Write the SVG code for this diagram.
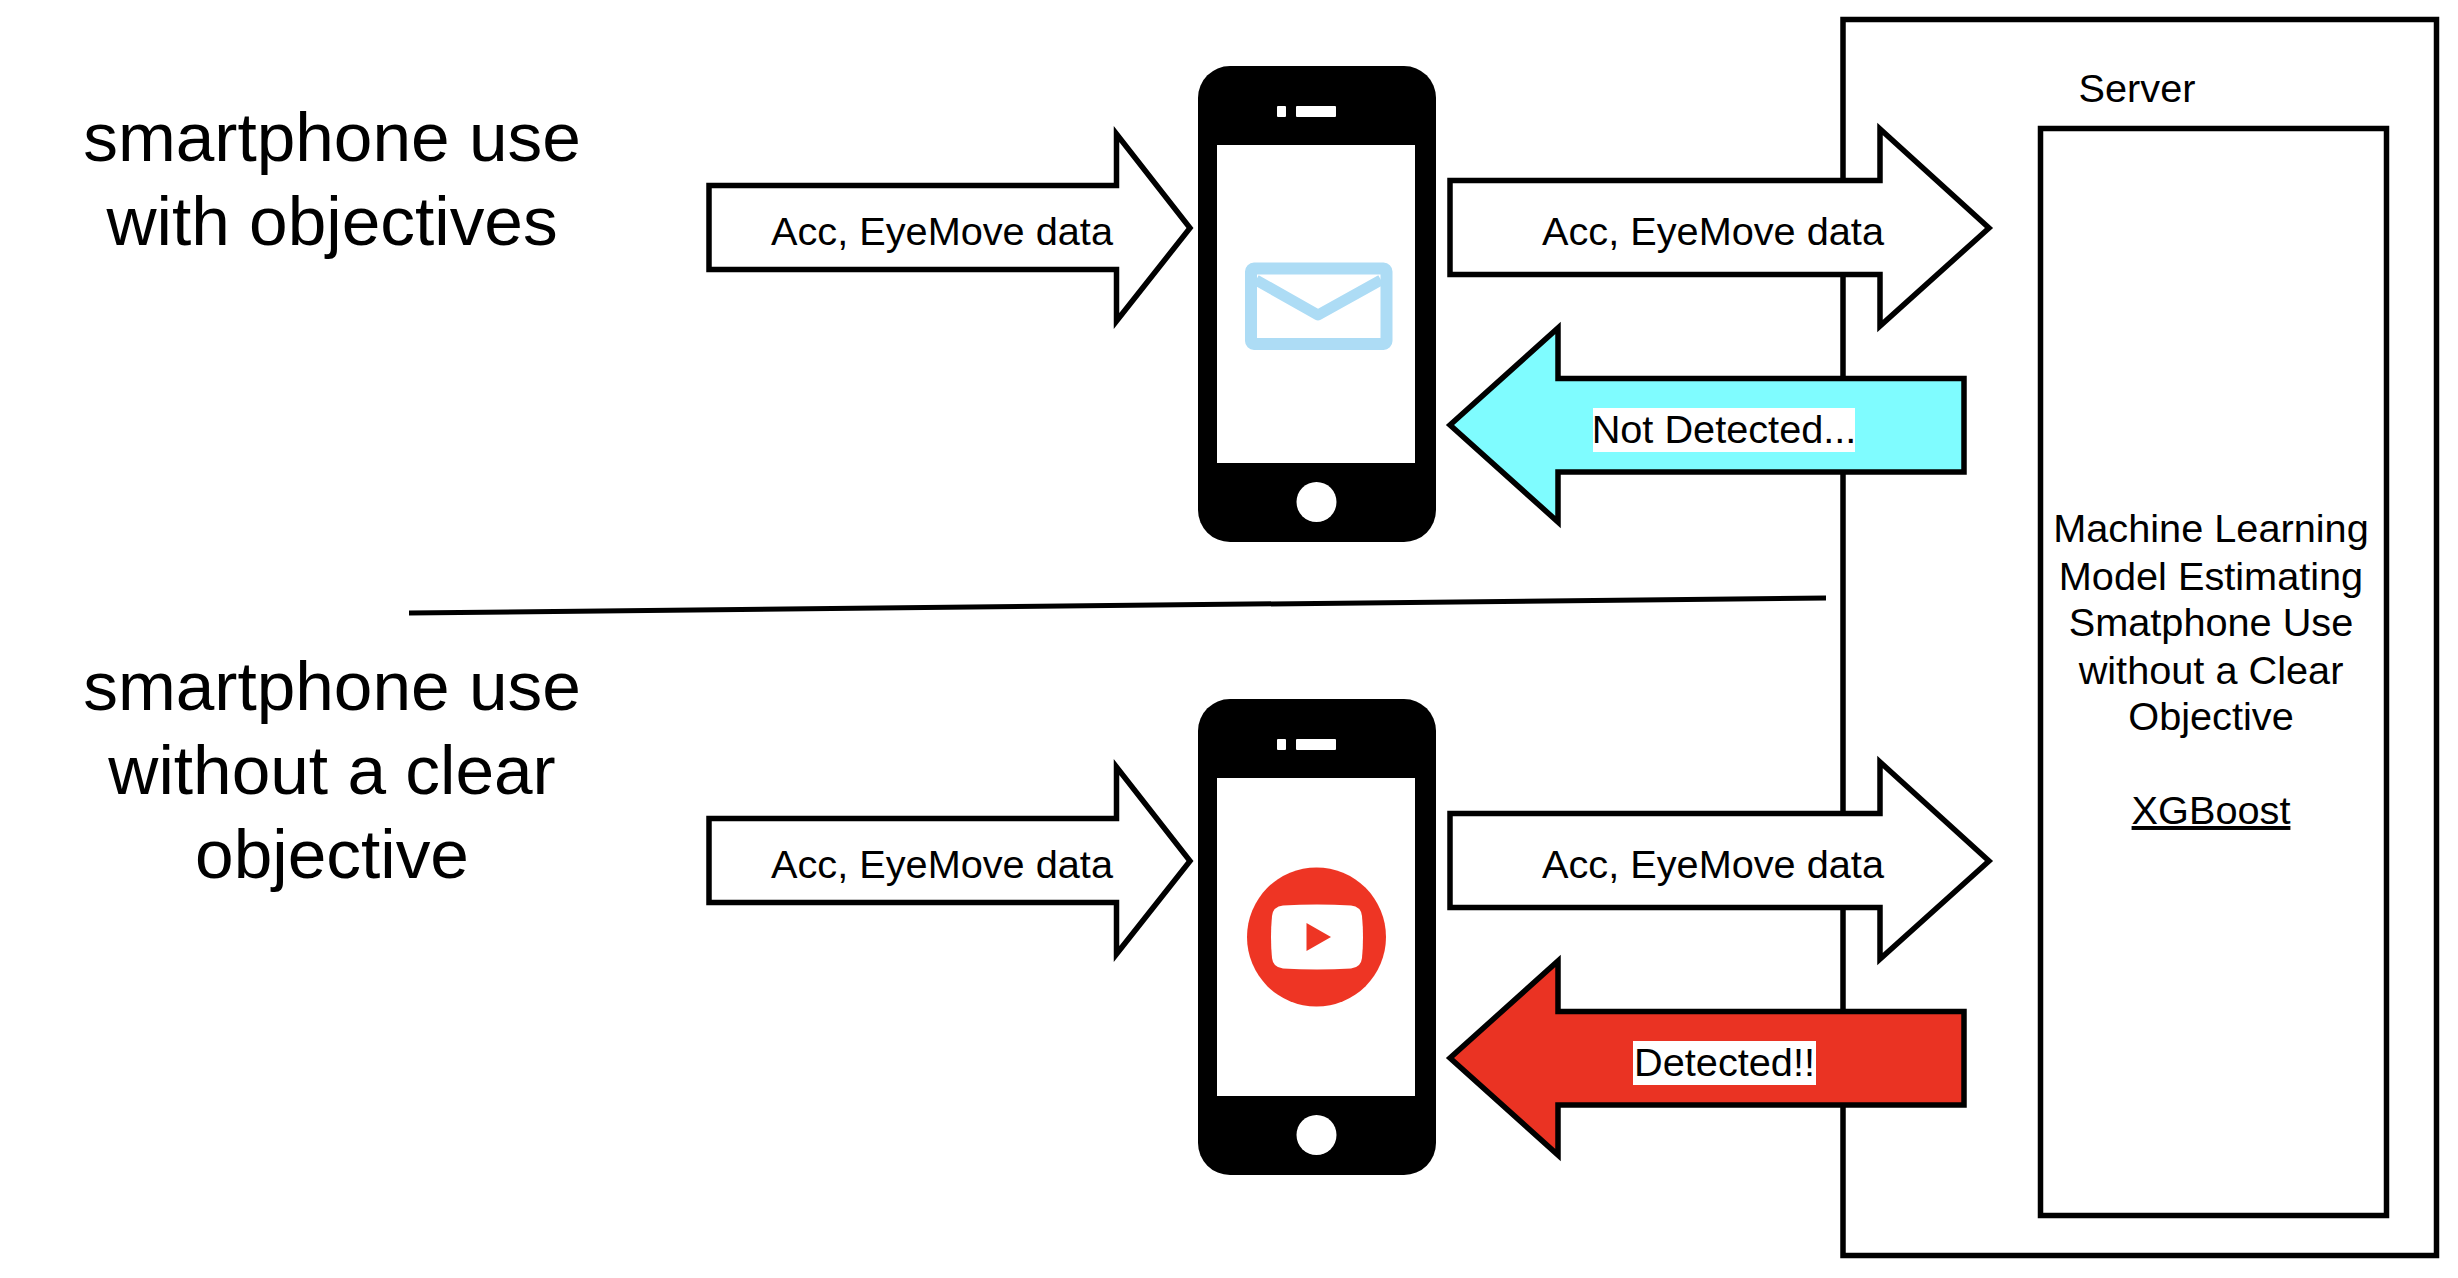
<svg xmlns="http://www.w3.org/2000/svg" width="2458" height="1278" viewBox="0 0 2458 1278">
<style>
text{font-family:"Liberation Sans",Arial,sans-serif;fill:#000}
.t{font-size:39.7px;text-anchor:middle}
.h{font-size:69.4px;text-anchor:middle}
.box{fill:#fff;stroke:#000;stroke-width:5.5}
.arr{stroke:#000;stroke-width:5.5;stroke-miterlimit:10;fill:#fff}
.body{fill:#000}
.scr{fill:#fff}
</style>
<defs>
<filter id="soft" x="-5%" y="-5%" width="110%" height="110%"><feGaussianBlur stdDeviation="0.7"/></filter>
<g id="phone" filter="url(#soft)">
<rect class="body" x="1198" y="66" width="238" height="476" rx="32" ry="32"/>
<rect class="scr" x="1217" y="145" width="198" height="318"/>
<rect class="scr" x="1277" y="106" width="9" height="11" rx="1"/>
<rect class="scr" x="1296" y="106" width="40" height="11" rx="1"/>
<ellipse class="scr" cx="1316.500" cy="502" rx="20" ry="20"/>
</g>
<path id="arrIn" class="arr" d="M709 185.500H1116.500V134L1190 228L1116.500 321V269.500H709Z"/>
<path id="arrOut" class="arr" d="M1450 180.500H1880V129L1989 228L1880 326V274.500H1450Z"/>
<path id="arrBack" d="M1964 378.500H1558V328L1450 425L1558 522V472H1964Z"/>
</defs>

<g id="server">
<rect class="box" x="1843" y="19.500" width="593.500" height="1236"/>
<text class="t" x="2137" y="102">Server</text>
</g>
<g id="model">
<rect class="box" x="2040.500" y="128.500" width="346" height="1087"/>
<text class="t" x="2211" y="542">Machine Learning</text>
<text class="t" x="2211" y="590">Model Estimating</text>
<text class="t" x="2211" y="636">Smatphone Use</text>
<text class="t" x="2211" y="684">without a Clear</text>
<text class="t" x="2211" y="730">Objective</text>
<text class="t" x="2211" y="824" text-decoration="underline">XGBoost</text>
</g>

<g id="heading-top">
<text class="h" x="332" y="161">smartphone use</text>
<text class="h" x="332" y="245">with objectives</text>
</g>
<g id="heading-bottom">
<text class="h" x="332" y="710">smartphone use</text>
<text class="h" x="332" y="794">without a clear</text>
<text class="h" x="332" y="878">objective</text>
</g>

<g id="phone-top">
<use href="#phone"/>
<rect x="1251" y="268.500" width="135.500" height="75.500" rx="3" fill="none" stroke="#addcf5" stroke-width="12"/>
<path d="M1256 280L1318 315L1381 280" fill="none" stroke="#addcf5" stroke-width="11" stroke-linejoin="round"/>
</g>
<g id="phone-bottom">
<use href="#phone" y="633"/>
<circle cx="1316.500" cy="937" r="69.500" fill="#ee3524"/>
<path d="M1283 905.500Q1317 903.500 1351 905.500Q1361 906.500 1362 916Q1364 937 1362 958Q1361 967.500 1351 968.500Q1317 970.500 1283 968.500Q1273 967.500 1272 958Q1270 937 1272 916Q1273 906.500 1283 905.500Z" fill="#fff"/>
<path d="M1306.500 923L1331 937L1306.500 951Z" fill="#ee3524"/>
</g>

<g id="connectors">
<path d="M409 613L1826 598" fill="none" stroke="#000" stroke-width="5"/>
<g id="arrow-in-top"><use href="#arrIn"/><text class="t" x="942" y="245">Acc, EyeMove data</text></g>
<g id="arrow-out-top"><use href="#arrOut"/><text class="t" x="1713" y="245">Acc, EyeMove data</text></g>
<g id="arrow-back-top"><use href="#arrBack" class="arr" style="fill:#7ffcff"/><rect x="1593" y="408" width="262" height="44" fill="#fff"/><text class="t" x="1724" y="443">Not Detected...</text></g>
<g id="arrow-in-bottom"><use href="#arrIn" y="633"/><text class="t" x="942" y="878">Acc, EyeMove data</text></g>
<g id="arrow-out-bottom"><use href="#arrOut" y="633"/><text class="t" x="1713" y="878">Acc, EyeMove data</text></g>
<g id="arrow-back-bottom"><use href="#arrBack" y="633" class="arr" style="fill:#ea3323"/><rect x="1633" y="1041" width="183" height="44" fill="#fff"/><text class="t" x="1724.500" y="1076">Detected!!</text></g>
</g>
</svg>
